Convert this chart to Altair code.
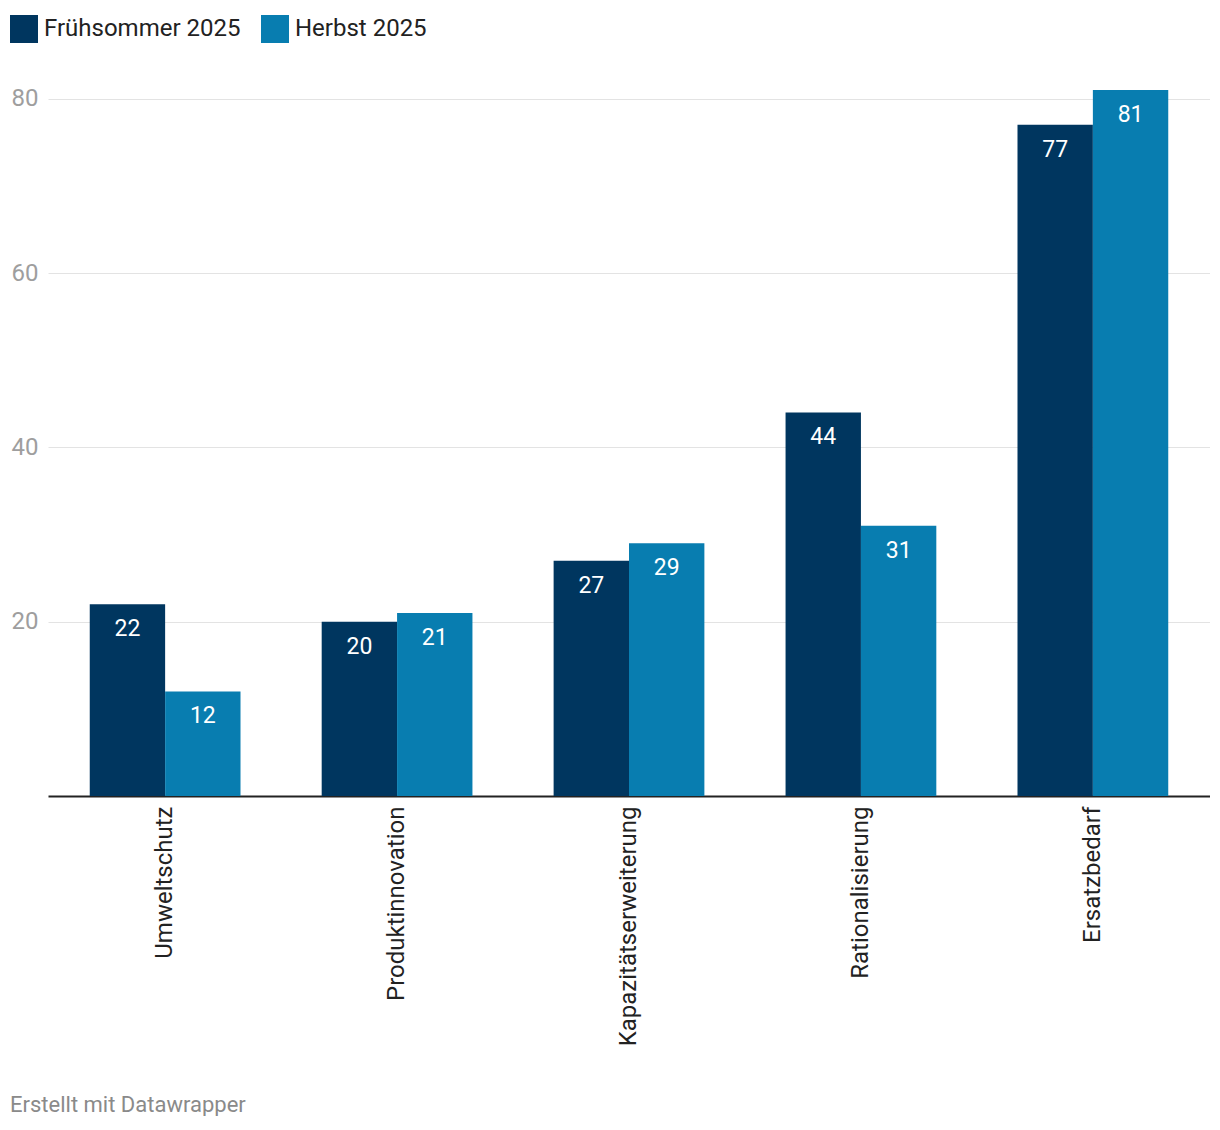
import altair as alt
import pandas as pd

categories = ["Umweltschutz", "Produktinnovation", "Kapazitätserweiterung", "Rationalisierung", "Ersatzbedarf"]
series = ["Frühsommer 2025", "Herbst 2025"]
fruehsommer = [22, 20, 27, 44, 77]
herbst = [12, 21, 29, 31, 81]
y_ticks = [20, 40, 60, 80]
colors = ["#00365f", "#087db0"]

rows = []
for c, a, b in zip(categories, fruehsommer, herbst):
    rows.append({"Kategorie": c, "Serie": series[0], "Wert": a})
    rows.append({"Kategorie": c, "Serie": series[1], "Wert": b})
df = pd.DataFrame(rows)

FONT = "Roboto"

x = alt.X("Kategorie:N", sort=categories, title=None,
          scale=alt.Scale(paddingInner=0.35, paddingOuter=0.18),
          axis=alt.Axis(labelAngle=270, labelAlign="right", labelBaseline="middle",
                        labelFontSize=24, labelColor="#222222", labelFont=FONT,
                        labelPadding=10, ticks=False, domainColor="#222222",
                        domainWidth=2, labelLimit=400))
y = alt.Y("Wert:Q", title=None,
          scale=alt.Scale(domain=[0, 81], nice=False),
          axis=alt.Axis(values=y_ticks, labelFontSize=24, labelColor="#9e9e9e",
                        labelFont=FONT, ticks=False, domain=False,
                        gridColor="#e3e3e3", gridWidth=1, labelPadding=10))

base = alt.Chart(df)

bars = base.mark_bar().encode(
    x=x,
    y=y,
    xOffset=alt.XOffset("Serie:N", sort=series),
    color=alt.Color("Serie:N", sort=series,
                    scale=alt.Scale(domain=series, range=colors),
                    legend=alt.Legend(title=None, orient="none", legendX=-38, legendY=-75,
                                      direction="horizontal", symbolType="square",
                                      symbolSize=784, symbolStrokeWidth=0,
                                      labelFontSize=24, labelFont=FONT, labelColor="#222222",
                                      columnPadding=20, labelOffset=6, padding=0,
                                      labelLimit=500, symbolOpacity=1)),
)

labels = base.mark_text(color="white", fontSize=23, font=FONT, baseline="middle", dy=25).encode(
    x=x,
    y=y,
    xOffset=alt.XOffset("Serie:N", sort=series),
    text=alt.Text("Wert:Q"),
)

footer = alt.Chart(pd.DataFrame({"t": ["Erstellt mit Datawrapper"]})).mark_text(
    align="left", baseline="middle", fontSize=22, font=FONT, color="#8a8a8a"
).encode(x=alt.value(-38), y=alt.value(1015), text="t:N")

chart = (bars + labels + footer).properties(
    width=1162, height=706,
    autosize=alt.AutoSizeParams(type="none"),
    padding={"left": 40, "top": 82, "right": 0, "bottom": 320},
    background="white",
).configure_view(stroke=None)

chart.save("out.html", embed_options={"renderer": "svg", "actions": False})
